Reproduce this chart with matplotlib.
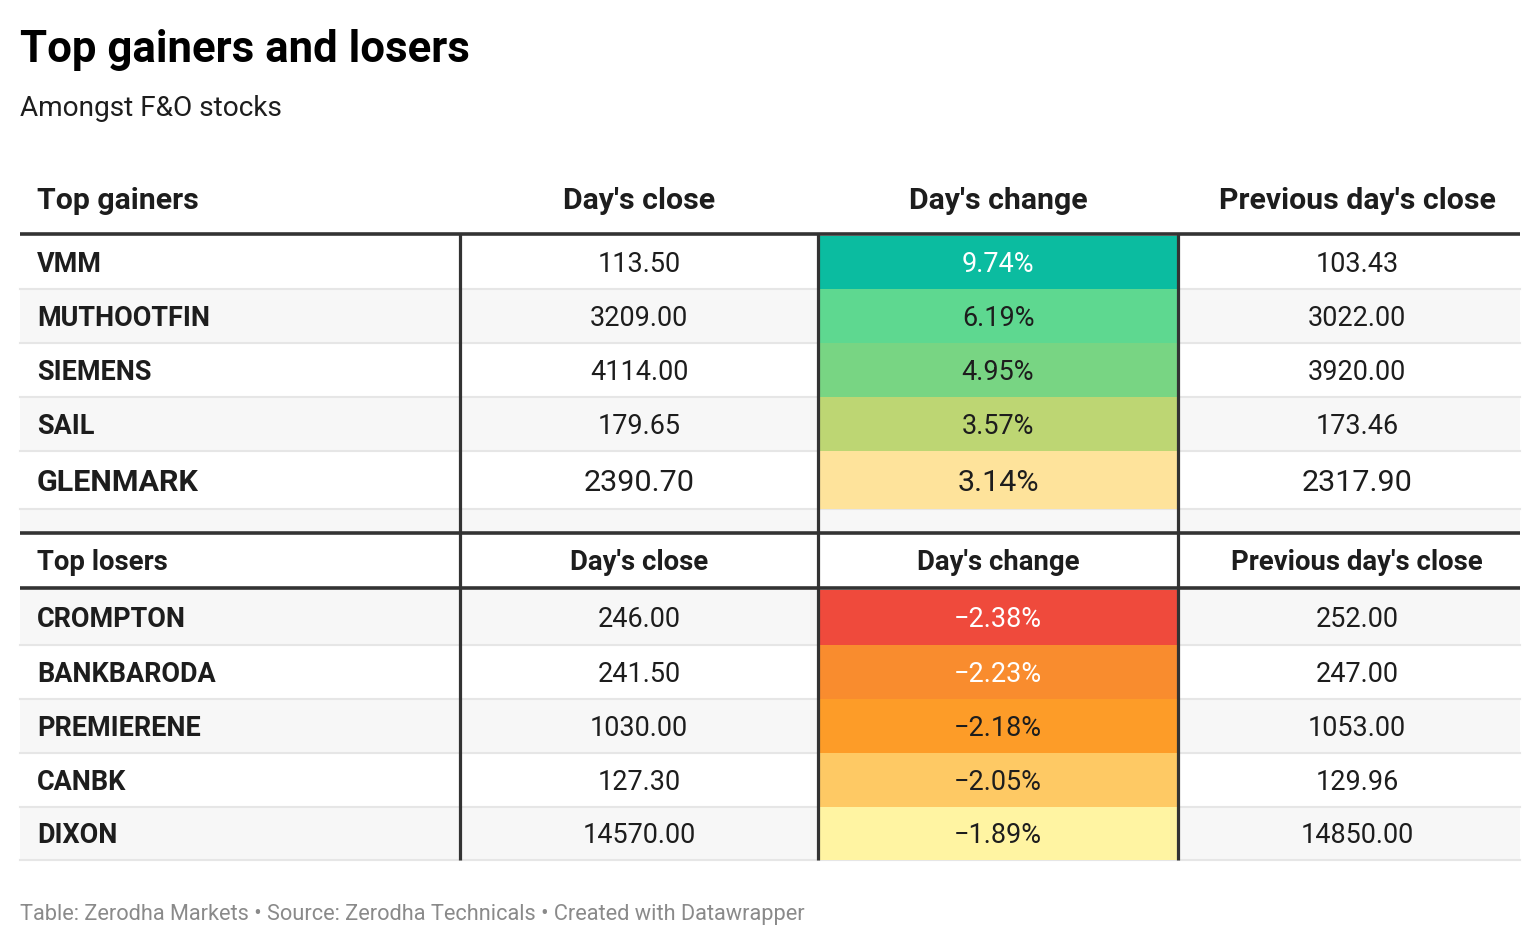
import matplotlib
matplotlib.use("Agg")
import matplotlib.pyplot as plt
from matplotlib.patches import Rectangle

# ---------------- data ----------------
title = "Top gainers and losers"
subtitle = "Amongst F&O stocks"
footer = "Table: Zerodha Markets • Source: Zerodha Technicals • Created with Datawrapper"
col_headers = ["Day's close", "Day's change", "Previous day's close"]

gainers = ["VMM", "MUTHOOTFIN", "SIEMENS", "SAIL", "GLENMARK"]
gain_close = [113.50, 3209.00, 4114.00, 179.65, 2390.70]
gain_change = [9.74, 6.19, 4.95, 3.57, 3.14]
gain_prev = [103.43, 3022.00, 3920.00, 173.46, 2317.90]

losers = ["CROMPTON", "BANKBARODA", "PREMIERENE", "CANBK", "DIXON"]
lose_close = [246.00, 241.50, 1030.00, 127.30, 14570.00]
lose_change = [-2.38, -2.23, -2.18, -2.05, -1.89]
lose_prev = [252.00, 247.00, 1053.00, 129.96, 14850.00]

# ---------------- style ----------------
gain_colors = ["#0bbca0", "#5ed890", "#78d583", "#bdd673", "#fee39b"]
gain_txt = ["white", "#1d1d1d", "#1d1d1d", "#1d1d1d", "#1d1d1d"]
lose_colors = ["#ef4a3c", "#f98c2e", "#fd9c28", "#fec964", "#fff4a2"]
lose_txt = ["white", "white", "#1d1d1d", "#1d1d1d", "#1d1d1d"]

FONT = ["Roboto", "DejaVu Sans"]
DARK = "#1d1d1d"
LINE = "#333333"
GREY_BG = "#f7f7f7"
SEP = "#e6e6e6"
PT = 72 / 100.0  # px -> pt

W, H = 1540, 946
fig = plt.figure(figsize=(W / 100, H / 100), dpi=100)
ax = fig.add_axes([0, 0, 1, 1])
ax.set_xlim(0, W)
ax.set_ylim(H, 0)
ax.axis("off")

x_left, x_right = 20, 1520
col_edges = [20, 460, 818, 1178, 1520]
col_centers = [639, 998, 1357]
label_x = 37


def txt(x, y_center, s, px, bold=False, color=DARK, ha="center"):
    ax.text(x, y_center + 0.355 * px, s, fontsize=px * PT, fontweight="bold" if bold else "normal",
            color=color, ha=ha, va="baseline", family=FONT, zorder=6)


def fmt(v):
    return f"{v:.2f}"


def pct(v):
    s = f"{abs(v):.2f}%"
    return ("−" + s) if v < 0 else s


# title / subtitle
ax.text(20, 62, title, fontsize=43.8 * PT, fontweight="bold", color="black", ha="left",
        va="baseline", family=FONT)
ax.text(20, 116, subtitle, fontsize=28 * PT, color=DARK, ha="left", va="baseline", family=FONT)

# gainers header
hdr_c = 198
txt(label_x, hdr_c, "Top gainers", 30.3, bold=True, ha="left")
for cx, h in zip(col_centers, col_headers):
    txt(cx, hdr_c, h, 30.3, bold=True)

# row layout
g_tops = [236, 289, 343, 397, 451]
g_bots = [289, 343, 397, 451, 509]
spacer = (509, 531)
l_hdr = (535, 586)
l_tops = [590, 645, 699, 753, 807]
l_bots = [645, 699, 753, 807, 860]


def draw_rows(names, closes, changes, prevs, colors, tcolors, tops, bots, start_grey, sizes):
    for i, (n, c, ch, p) in enumerate(zip(names, closes, changes, prevs)):
        t, b = tops[i], bots[i]
        grey = (i % 2 == 1) if not start_grey else (i % 2 == 0)
        if grey:
            ax.add_patch(Rectangle((x_left, t), x_right - x_left, b - t, color=GREY_BG, lw=0, zorder=1))
        ax.plot([x_left, x_right], [b, b], color=SEP, lw=1.5, zorder=2)
        ax.add_patch(Rectangle((col_edges[2], t), col_edges[3] - col_edges[2], b - t,
                               color=colors[i], lw=0, zorder=3))
        cy = (t + b) / 2
        px = sizes[i]
        txt(label_x, cy, n, px, bold=True, ha="left")
        txt(col_centers[0], cy, fmt(c), px)
        txt(col_centers[1], cy, pct(ch), px, color=tcolors[i])
        txt(col_centers[2], cy, fmt(p), px)


draw_rows(gainers, gain_close, gain_change, gain_prev, gain_colors, gain_txt,
          g_tops, g_bots, False, [27, 27, 27, 27, 30.5])

# spacer row
ax.add_patch(Rectangle((x_left, spacer[0]), x_right - x_left, spacer[1] - spacer[0],
                       color=GREY_BG, lw=0, zorder=1))

# losers header
l_c = (l_hdr[0] + l_hdr[1]) / 2
txt(label_x, l_c, "Top losers", 27.5, bold=True, ha="left")
for cx, h in zip(col_centers, col_headers):
    txt(cx, l_c, h, 27.5, bold=True)

draw_rows(losers, lose_close, lose_change, lose_prev, lose_colors, lose_txt,
          l_tops, l_bots, True, [27, 27, 27, 27, 27])

# thick horizontal rules
for y in [234.5, 533, 588]:
    ax.plot([x_left, x_right], [y, y], color=LINE, lw=3.6 * PT, zorder=5, solid_capstyle="butt")

# vertical rules
for x in col_edges[1:4]:
    ax.plot([x, x], [233, 860], color=LINE, lw=3.2 * PT, zorder=5, solid_capstyle="butt")

# footer
ax.text(20, 920, footer, fontsize=21.8 * PT, color="#8a8a8a", ha="left", va="baseline", family=FONT)

fig.savefig("out.png", dpi=100)
